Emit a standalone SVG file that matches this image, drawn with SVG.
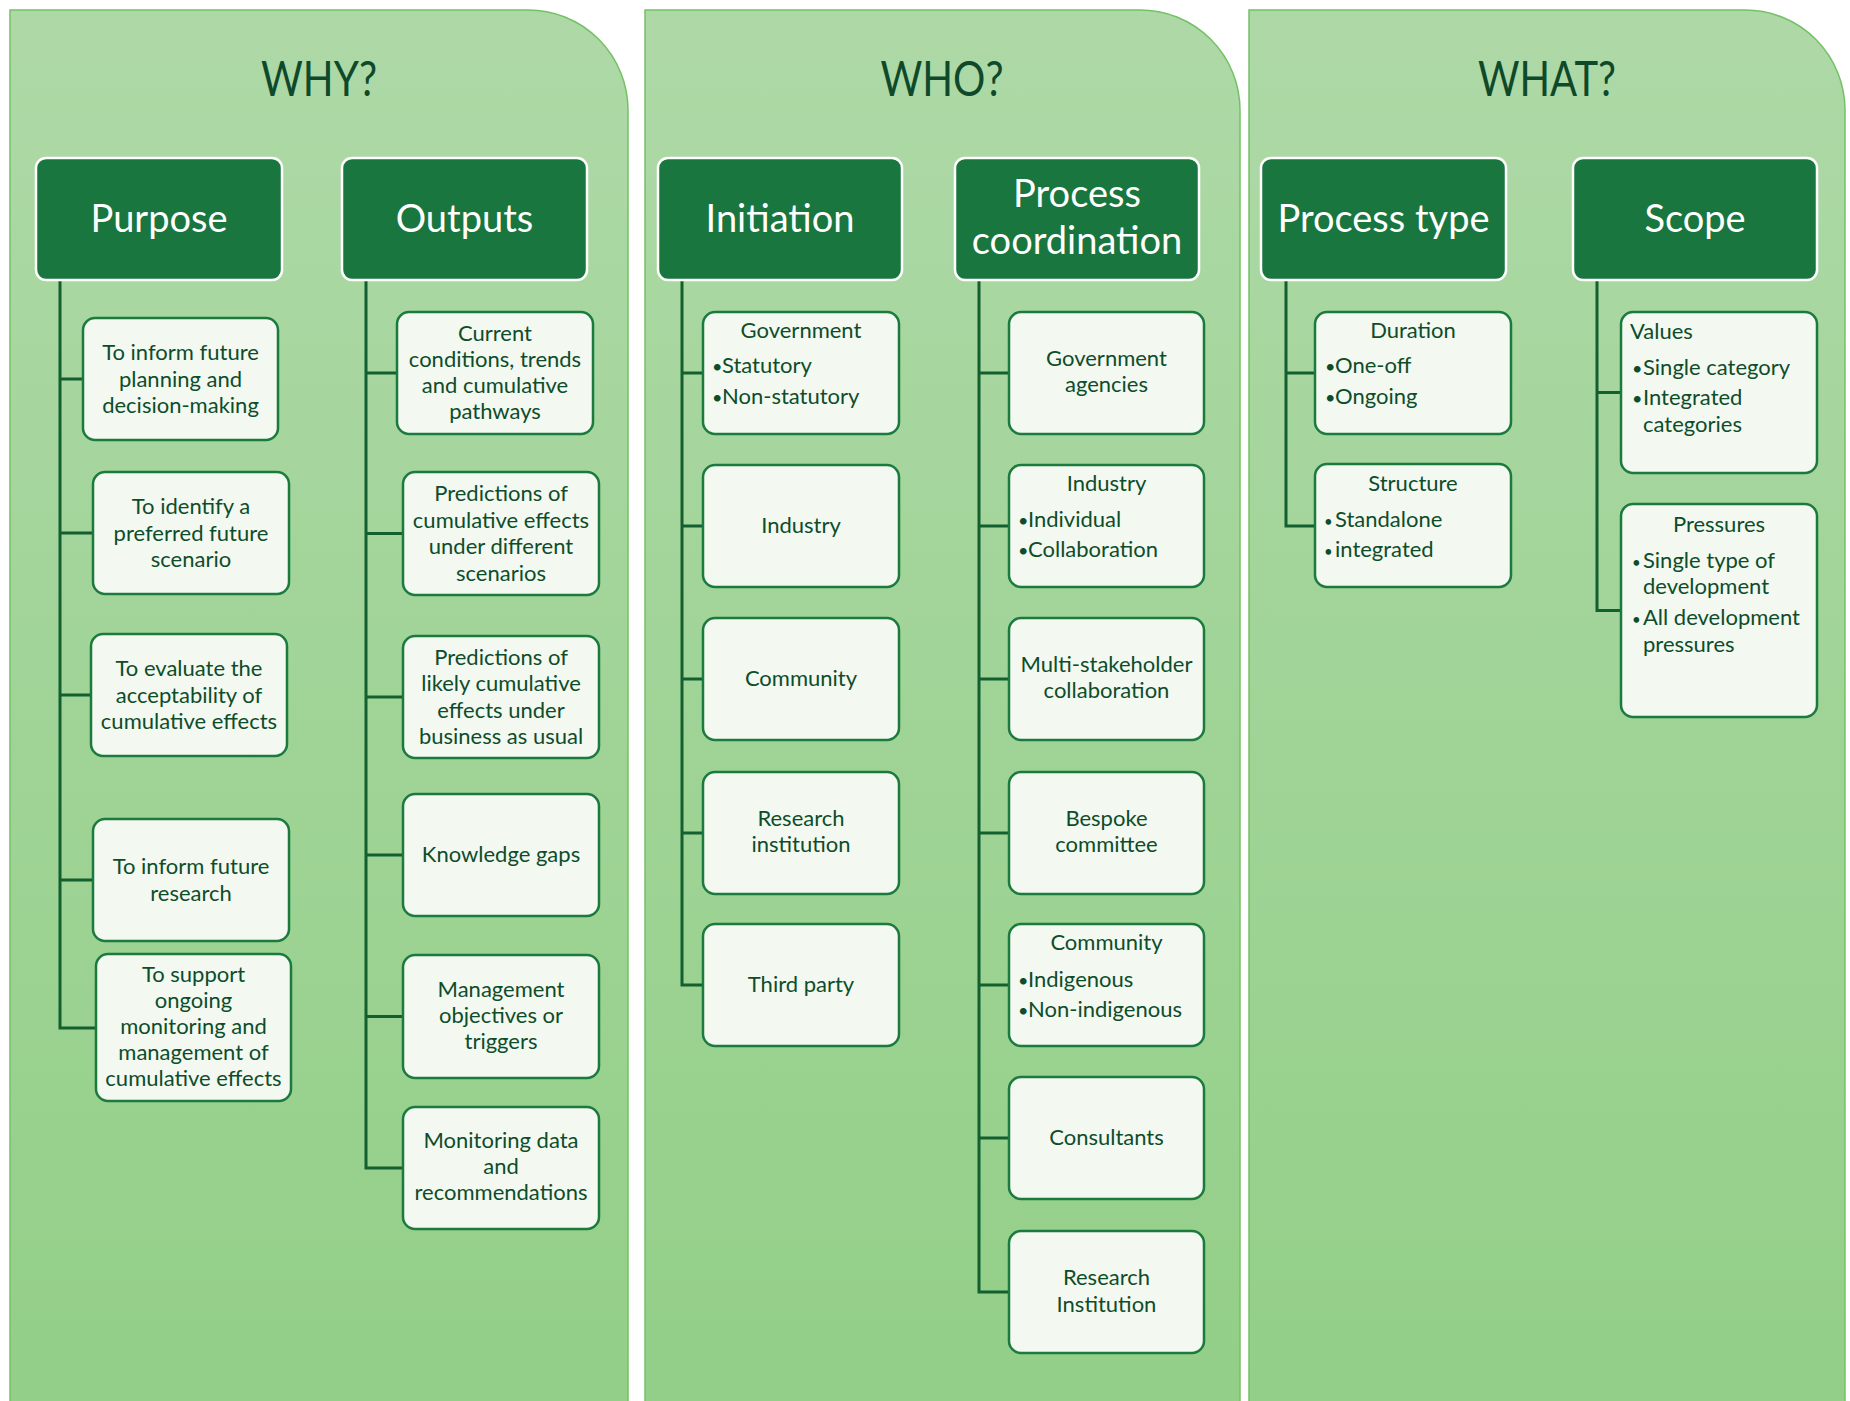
<svg xmlns="http://www.w3.org/2000/svg" width="1850" height="1401" viewBox="0 0 1850 1401">
<defs>
<linearGradient id="pg" x1="0" y1="0" x2="0" y2="1401" gradientUnits="userSpaceOnUse">
<stop offset="0" stop-color="#AED9A7"/>
<stop offset="1" stop-color="#93CF88"/>
</linearGradient>
<style>
.panel{fill:url(#pg);stroke:#74C165;stroke-width:1.5}
.title{font-family:Lato,"Liberation Sans",sans-serif;font-size:49px;fill:#0E4A2A;text-anchor:middle}
.hbox{fill:#18763E;stroke:#FFFFFF;stroke-width:2.5}
.htext{font-family:Lato,"Liberation Sans",sans-serif;font-size:38px;fill:#FFFFFF;text-anchor:middle}
.cbox{fill:#F3F8F1;stroke:#1B7A3E;stroke-width:2.5}
.t{font-family:Lato,"Liberation Sans",sans-serif;font-size:22px;fill:#0D4D2A;text-anchor:middle}
.l{font-family:Lato,"Liberation Sans",sans-serif;font-size:22px;fill:#0D4D2A;text-anchor:start}
.b{font-size:18px}
.conn{fill:none;stroke:#125F30;stroke-width:3}
</style>
</defs>
<rect width="1850" height="1401" fill="#FFFFFF"/>

<g id="panel-why">
<path class="panel" d="M10,1402 V10 H528 A100,100 0 0 1 628,110 V1402"/>
<text class="title" x="319" y="96" textLength="116" lengthAdjust="spacingAndGlyphs">WHY?</text>
</g>
<g id="panel-who">
<path class="panel" d="M645,1402 V10 H1140 A100,100 0 0 1 1240,110 V1402"/>
<text class="title" x="942" y="96" textLength="123" lengthAdjust="spacingAndGlyphs">WHO?</text>
</g>
<g id="panel-what">
<path class="panel" d="M1249,1402 V10 H1745 A100,100 0 0 1 1845,110 V1402"/>
<text class="title" x="1547" y="96" textLength="138" lengthAdjust="spacingAndGlyphs">WHAT?</text>
</g>

<g id="connectors">
<path class="conn" d="M60,281 V1028 H96 M60,379 H83 M60,533 H93 M60,695 H91 M60,880 H93"/>
<path class="conn" d="M366,281 V1168 H403 M366,373 H397 M366,533.5 H403 M366,697 H403 M366,855 H403 M366,1016.5 H403"/>
<path class="conn" d="M682,281 V985 H703 M682,373 H703 M682,526 H703 M682,679 H703 M682,833 H703"/>
<path class="conn" d="M979,281 V1292 H1009 M979,373 H1009 M979,526 H1009 M979,679 H1009 M979,833 H1009 M979,985 H1009 M979,1138 H1009"/>
<path class="conn" d="M1286,281 V526 H1315 M1286,373 H1315"/>
<path class="conn" d="M1597,281 V610.5 H1621 M1597,392.5 H1621"/>
</g>

<g id="h-purpose"><rect class="hbox" x="36" y="158" width="246" height="122" rx="10"/><text class="htext" x="159" y="232">Purpose</text></g>
<g id="h-outputs"><rect class="hbox" x="342" y="158" width="245" height="122" rx="10"/><text class="htext" x="464.5" y="232">Outputs</text></g>
<g id="h-initiation"><rect class="hbox" x="658" y="158" width="244" height="122" rx="10"/><text class="htext" x="780" y="232">Initiation</text></g>
<g id="h-coord"><rect class="hbox" x="955" y="158" width="244" height="122" rx="10"/><text class="htext" x="1077" y="207">Process</text><text class="htext" x="1077" y="254">coordination</text></g>
<g id="h-ptype"><rect class="hbox" x="1261" y="158" width="245" height="122" rx="10"/><text class="htext" x="1383.5" y="232">Process type</text></g>
<g id="h-scope"><rect class="hbox" x="1573" y="158" width="244" height="122" rx="10"/><text class="htext" x="1695" y="232">Scope</text></g>

<g id="p1"><rect class="cbox" x="83" y="318" width="195" height="122" rx="12"/><text class="t" x="180.5" y="360">To inform future</text><text class="t" x="180.5" y="387">planning and</text><text class="t" x="180.5" y="413">decision-making</text></g>
<g id="p2"><rect class="cbox" x="93" y="472" width="196" height="122" rx="12"/><text class="t" x="191" y="514">To identify a</text><text class="t" x="191" y="540.5">preferred future</text><text class="t" x="191" y="567">scenario</text></g>
<g id="p3"><rect class="cbox" x="91" y="634" width="196" height="122" rx="12"/><text class="t" x="189" y="676">To evaluate the</text><text class="t" x="189" y="702.5">acceptability of</text><text class="t" x="189" y="729">cumulative effects</text></g>
<g id="p4"><rect class="cbox" x="93" y="819" width="196" height="122" rx="12"/><text class="t" x="191" y="874">To inform future</text><text class="t" x="191" y="900.5">research</text></g>
<g id="p5"><rect class="cbox" x="96" y="954" width="195" height="147" rx="12"/><text class="t" x="193.5" y="982">To support</text><text class="t" x="193.5" y="1008">ongoing</text><text class="t" x="193.5" y="1034">monitoring and</text><text class="t" x="193.5" y="1060">management of</text><text class="t" x="193.5" y="1086">cumulative effects</text></g>

<g id="o1"><rect class="cbox" x="397" y="312" width="196" height="122" rx="12"/><text class="t" x="495" y="341">Current</text><text class="t" x="495" y="367">conditions, trends</text><text class="t" x="495" y="393">and cumulative</text><text class="t" x="495" y="419">pathways</text></g>
<g id="o2"><rect class="cbox" x="403" y="472" width="196" height="123" rx="12"/><text class="t" x="501" y="501">Predictions of</text><text class="t" x="501" y="527.5">cumulative effects</text><text class="t" x="501" y="554">under different</text><text class="t" x="501" y="580.5">scenarios</text></g>
<g id="o3"><rect class="cbox" x="403" y="636" width="196" height="122" rx="12"/><text class="t" x="501" y="665">Predictions of</text><text class="t" x="501" y="691">likely cumulative</text><text class="t" x="501" y="717.5">effects under</text><text class="t" x="501" y="744">business as usual</text></g>
<g id="o4"><rect class="cbox" x="403" y="794" width="196" height="122" rx="12"/><text class="t" x="501" y="862">Knowledge gaps</text></g>
<g id="o5"><rect class="cbox" x="403" y="955" width="196" height="123" rx="12"/><text class="t" x="501" y="997">Management</text><text class="t" x="501" y="1023">objectives or</text><text class="t" x="501" y="1049">triggers</text></g>
<g id="o6"><rect class="cbox" x="403" y="1107" width="196" height="122" rx="12"/><text class="t" x="501" y="1148">Monitoring data</text><text class="t" x="501" y="1174">and</text><text class="t" x="501" y="1200">recommendations</text></g>

<g id="i1"><rect class="cbox" x="703" y="312" width="196" height="122" rx="12"/><text class="t" x="801" y="338">Government</text><text class="l" x="712" y="373"><tspan class="b">•</tspan><tspan x="722">Statutory</tspan></text><text class="l" x="712" y="404"><tspan class="b">•</tspan><tspan x="722">Non-statutory</tspan></text></g>
<g id="i2"><rect class="cbox" x="703" y="465" width="196" height="122" rx="12"/><text class="t" x="801" y="533">Industry</text></g>
<g id="i3"><rect class="cbox" x="703" y="618" width="196" height="122" rx="12"/><text class="t" x="801" y="686">Community</text></g>
<g id="i4"><rect class="cbox" x="703" y="772" width="196" height="122" rx="12"/><text class="t" x="801" y="826">Research</text><text class="t" x="801" y="852">institution</text></g>
<g id="i5"><rect class="cbox" x="703" y="924" width="196" height="122" rx="12"/><text class="t" x="801" y="992">Third party</text></g>

<g id="c1"><rect class="cbox" x="1009" y="312" width="195" height="122" rx="12"/><text class="t" x="1106.5" y="366">Government</text><text class="t" x="1106.5" y="392">agencies</text></g>
<g id="c2"><rect class="cbox" x="1009" y="465" width="195" height="122" rx="12"/><text class="t" x="1106.5" y="491">Industry</text><text class="l" x="1018" y="527"><tspan class="b">•</tspan><tspan x="1028">Individual</tspan></text><text class="l" x="1018" y="557"><tspan class="b">•</tspan><tspan x="1028">Collaboration</tspan></text></g>
<g id="c3"><rect class="cbox" x="1009" y="618" width="195" height="122" rx="12"/><text class="t" x="1106.5" y="672">Multi-stakeholder</text><text class="t" x="1106.5" y="698">collaboration</text></g>
<g id="c4"><rect class="cbox" x="1009" y="772" width="195" height="122" rx="12"/><text class="t" x="1106.5" y="826">Bespoke</text><text class="t" x="1106.5" y="852">committee</text></g>
<g id="c5"><rect class="cbox" x="1009" y="924" width="195" height="122" rx="12"/><text class="t" x="1106.5" y="950">Community</text><text class="l" x="1018" y="987"><tspan class="b">•</tspan><tspan x="1028">Indigenous</tspan></text><text class="l" x="1018" y="1017"><tspan class="b">•</tspan><tspan x="1028">Non-indigenous</tspan></text></g>
<g id="c6"><rect class="cbox" x="1009" y="1077" width="195" height="122" rx="12"/><text class="t" x="1106.5" y="1145">Consultants</text></g>
<g id="c7"><rect class="cbox" x="1009" y="1231" width="195" height="122" rx="12"/><text class="t" x="1106.5" y="1285">Research</text><text class="t" x="1106.5" y="1312">Institution</text></g>

<g id="w1"><rect class="cbox" x="1315" y="312" width="196" height="122" rx="12"/><text class="t" x="1413" y="338">Duration</text><text class="l" x="1325" y="373"><tspan class="b">•</tspan><tspan x="1335">One-off</tspan></text><text class="l" x="1325" y="404"><tspan class="b">•</tspan><tspan x="1335">Ongoing</tspan></text></g>
<g id="w2"><rect class="cbox" x="1315" y="464" width="196" height="123" rx="12"/><text class="t" x="1413" y="491">Structure</text><text class="l" x="1324" y="527"><tspan font-size="15">• </tspan><tspan x="1335">Standalone</tspan></text><text class="l" x="1324" y="557"><tspan font-size="15">• </tspan><tspan x="1335">integrated</tspan></text></g>
<g id="w3"><rect class="cbox" x="1621" y="312" width="196" height="161" rx="12"/><text class="l" x="1630" y="339">Values</text><text class="l" x="1632" y="375"><tspan class="b">•</tspan><tspan x="1643">Single category</tspan></text><text class="l" x="1632" y="405"><tspan class="b">•</tspan><tspan x="1643">Integrated</tspan></text><text class="l" x="1643" y="432">categories</text></g>
<g id="w4"><rect class="cbox" x="1621" y="504" width="196" height="213" rx="12"/><text class="t" x="1719" y="532">Pressures</text><text class="l" x="1632" y="568"><tspan font-size="15">• </tspan><tspan x="1643">Single type of</tspan></text><text class="l" x="1643" y="594">development</text><text class="l" x="1632" y="625"><tspan font-size="15">• </tspan><tspan x="1643">All development</tspan></text><text class="l" x="1643" y="652">pressures</text></g>
</svg>
